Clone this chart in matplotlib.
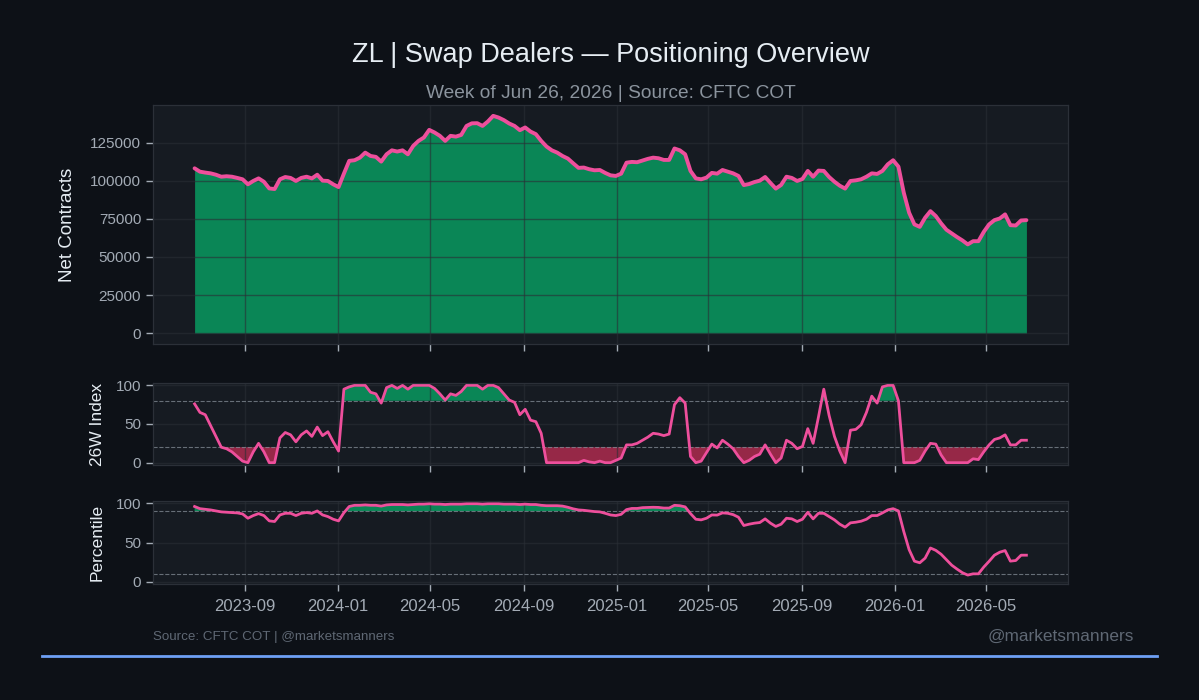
import matplotlib
matplotlib.use("Agg")
import matplotlib.pyplot as plt
import matplotlib.dates as mdates
import numpy as np
import pandas as pd

plt.rcParams['font.family'] = ['Liberation Sans', 'DejaVu Sans']

# ---------------- data ----------------
start_date = "2023-06-27"
n_weeks = 157
dates = pd.date_range(start_date, periods=n_weeks, freq="7D")

net_contracts = [
    108100, 105900, 105300, 104800, 103900, 102600, 102900, 102600, 101800, 100900,
    97600, 99800, 101500, 99300, 94900, 94500, 100900, 102400, 101800, 99800,
    101800, 102600, 101500, 103900, 100000, 99800, 97600, 95800, 104600, 113000,
    113400, 115100, 118400, 116200, 115600, 112500, 117300, 119900, 119100, 119900,
    117300, 122800, 126100, 128300, 133300, 131600, 129400, 126100, 129400, 128900,
    130000, 135900, 137600, 137700, 135900, 138800, 142500, 141400, 139700, 137500,
    135900, 133100, 134900, 132200, 130500, 126100, 122400, 119900, 118400, 116200,
    114500, 111400, 108400, 108600, 107500, 106800, 107000, 105100, 103500, 103100,
    104600, 111800, 112300, 112100, 113200, 114300, 115100, 114700, 113600, 113600,
    121100, 119900, 117300, 106400, 101500, 100900, 102000, 105100, 104600, 107000,
    105900, 104800, 103100, 97100, 97800, 99100, 100000, 102400, 98500, 94800,
    97200, 102600, 101800, 99800, 101100, 106400, 102600, 106600, 106400, 102400,
    99300, 96700, 94800, 99800, 100200, 100900, 102600, 104800, 104400, 106400,
    110700, 113400, 109200, 92100, 79000, 71300, 69700, 75700, 80000, 76800,
    72000, 67800, 65400, 63000, 60800, 58200, 60300, 60300, 66400, 71300,
    74100, 75200, 77900, 70800, 70600, 73900, 74100,
]

index_26w = [
    76, 65, 62, 48, 34, 20, 18, 14, 8, 2,
    0, 14, 25, 14, 0, 0, 32, 39, 36, 27,
    36, 41, 34, 46, 35, 40, 27, 15, 95, 98,
    100, 100, 100, 91, 89, 77, 97, 100, 96, 100,
    95, 100, 100, 100, 100, 96, 89, 81, 89, 87,
    92, 100, 100, 100, 95, 100, 100, 97, 89, 81,
    78, 62, 69, 55, 53, 38, 0, 0, 0, 0,
    0, 0, 0, 3, 1, 0, 2, 0, 0, 3,
    6, 23, 23, 25, 29, 33, 38, 37, 35, 37,
    75, 84, 77, 8, 0, 2, 13, 24, 19, 29,
    24, 18, 8, 0, 3, 8, 11, 23, 11, 0,
    6, 29, 25, 18, 21, 44, 25, 59, 95, 61,
    34, 15, 0, 42, 43, 49, 65, 86, 77, 98,
    100, 100, 80, 0, 0, 0, 3, 15, 25, 24,
    10, 0, 0, 0, 0, 0, 5, 4, 14, 23,
    30, 32, 36, 23, 23, 29, 29,
]

percentile = [
    96, 93.2, 92.4, 91.6, 90.3, 89.1, 88.6, 88.2, 87.8, 86.5,
    81.0, 84.4, 86.9, 84.4, 77.6, 76.8, 85.2, 87.3, 87.3, 84.4,
    87.3, 88.2, 87.3, 90.3, 85.2, 83.1, 79.7, 77.6, 88, 96,
    97.5, 97.5, 98, 97.5, 97.5, 96.5, 98, 98.5, 98.5, 98.5,
    98, 98.5, 99, 99, 99.5, 99, 99, 98.5, 99, 99,
    99, 99.5, 99.5, 99.5, 99, 99.5, 99.5, 99.5, 99, 99,
    99, 98.5, 99, 98.5, 98.5, 97.5, 97, 97, 97, 96.5,
    95, 93, 91.6, 91.1, 90.3, 89.5, 89.1, 87.3, 85.2, 84.4,
    86, 92, 93.5, 93.5, 94.5, 94.8, 95, 94.8, 94, 94,
    97.5, 97, 95.5, 87, 79.7, 78.9, 81, 85.2, 85, 87.8,
    87.3, 85.6, 82.3, 71.7, 73.4, 74.7, 75.5, 80.2, 74.7, 70.5,
    73.4, 81, 80.2, 76.8, 79.7, 88.6, 80.2, 87.3, 87.3, 83.1,
    78.9, 73.4, 69.6, 75.1, 75.9, 77.2, 79.7, 84.4, 84.4, 87.8,
    91.6, 93.2, 90.3, 64, 40.9, 26.2, 24.1, 30, 43, 40,
    35, 28, 21, 16, 11.4, 8.4, 10, 10, 18.6, 26,
    33.8, 37.6, 39.7, 26.2, 27, 33.8, 33.8,
]

net_ticks = [0, 25000, 50000, 75000, 100000, 125000]
pct_ticks = [0, 50, 100]
index_bands = (20, 80)
pct_bands = (10, 90)

title = "ZL | Swap Dealers — Positioning Overview"
subtitle = "Week of Jun 26, 2026 | Source: CFTC COT"
footer_left = "Source: CFTC COT | @marketsmanners"
footer_right = "@marketsmanners"

# ---------------- style ----------------
FIG_BG = "#0d1117"
AX_BG = "#161b22"
SPINE = "#2b3038"
GRID = "#2a2f36"
TICK = "#a3abb5"
LABEL = "#e6edf3"
PINK = "#ee4f9c"
GREEN = "#0a8656"
RED = "#a52a4c"

net = np.array(net_contracts, dtype=float)
idx = np.array(index_26w, dtype=float)
pct = np.array(percentile, dtype=float)

fig = plt.figure(figsize=(11.99, 7.0), dpi=100, facecolor=FIG_BG)
L, R = 153 / 1199, 1068 / 1199
ax1 = fig.add_axes([L, 1 - 344 / 700, R - L, (344 - 105) / 700])
ax2 = fig.add_axes([L, 1 - 465 / 700, R - L, (465 - 383) / 700], sharex=ax1)
ax3 = fig.add_axes([L, 1 - 584 / 700, R - L, (584 - 501) / 700], sharex=ax1)

for ax in (ax1, ax2, ax3):
    ax.set_facecolor(AX_BG)
    for s in ax.spines.values():
        s.set_color(SPINE)
        s.set_linewidth(0.9)
    ax.grid(True, color=GRID, linewidth=1.0, alpha=0.6)
    ax.tick_params(colors=TICK, labelsize=11, length=5, width=1)

# top panel
ax1.fill_between(dates, 0, net, color=GREEN, linewidth=0)
ax1.plot(dates, net, color=PINK, linewidth=2.8, solid_capstyle='round')
ax1.set_yticks(net_ticks)
ax1.set_yticklabels([str(t) for t in net_ticks])
ax1.set_ylabel("Net Contracts", color=LABEL, fontsize=13.5, labelpad=10)
ax1.tick_params(labelbottom=False)

# middle panel
lo, hi = index_bands
ax2.fill_between(dates, hi, idx, where=idx > hi, interpolate=True, color=GREEN, linewidth=0)
ax2.fill_between(dates, lo, idx, where=idx < lo, interpolate=True, color=RED, alpha=0.9, linewidth=0)
ax2.axhline(hi, color="#8b949e", linestyle="--", linewidth=0.8, alpha=0.7)
ax2.axhline(lo, color="#8b949e", linestyle="--", linewidth=0.8, alpha=0.7)
ax2.plot(dates, idx, color=PINK, linewidth=2.0)
ax2.set_ylim(-3, 103)
ax2.set_yticks(pct_ticks)
ax2.set_ylabel("26W Index", color=LABEL, fontsize=12.5, labelpad=8)
ax2.tick_params(labelbottom=False)

# bottom panel
lo, hi = pct_bands
ax3.fill_between(dates, hi, pct, where=pct > hi, interpolate=True, color=GREEN, linewidth=0)
ax3.fill_between(dates, lo, pct, where=pct < lo, interpolate=True, color=RED, alpha=0.9, linewidth=0)
ax3.axhline(hi, color="#8b949e", linestyle="--", linewidth=0.8, alpha=0.7)
ax3.axhline(lo, color="#8b949e", linestyle="--", linewidth=0.8, alpha=0.7)
ax3.plot(dates, pct, color=PINK, linewidth=2.0)
ax3.set_ylim(-3, 103)
ax3.set_yticks(pct_ticks)
ax3.set_ylabel("Percentile", color=LABEL, fontsize=12.5, labelpad=8)

ax3.xaxis.set_major_locator(mdates.MonthLocator(bymonth=[1, 5, 9]))
ax3.xaxis.set_major_formatter(mdates.DateFormatter("%Y-%m"))
ax3.tick_params(axis='x', labelsize=12, pad=6)

# titles / footer
cx = (L + R) / 2
fig.text(cx, 1 - 55 / 700, title, ha="center", va="center", color=LABEL, fontsize=19.5)
fig.text(cx, 1 - 93 / 700, subtitle, ha="center", va="center", color="#8b949e", fontsize=13.8)
fig.text(L, 1 - 637 / 700, footer_left, ha="left", va="center", color="#5f6874", fontsize=9.6)
fig.text(1134 / 1199, 1 - 636 / 700, footer_right, ha="right", va="center", color="#5f6874", fontsize=12.4)
fig.add_artist(plt.Line2D([42 / 1199, 1157 / 1199], [1 - 656 / 700, 1 - 656 / 700],
                          transform=fig.transFigure, color="#6ea0f5", linewidth=2))

fig.savefig("out.png", dpi=100, facecolor=FIG_BG)
